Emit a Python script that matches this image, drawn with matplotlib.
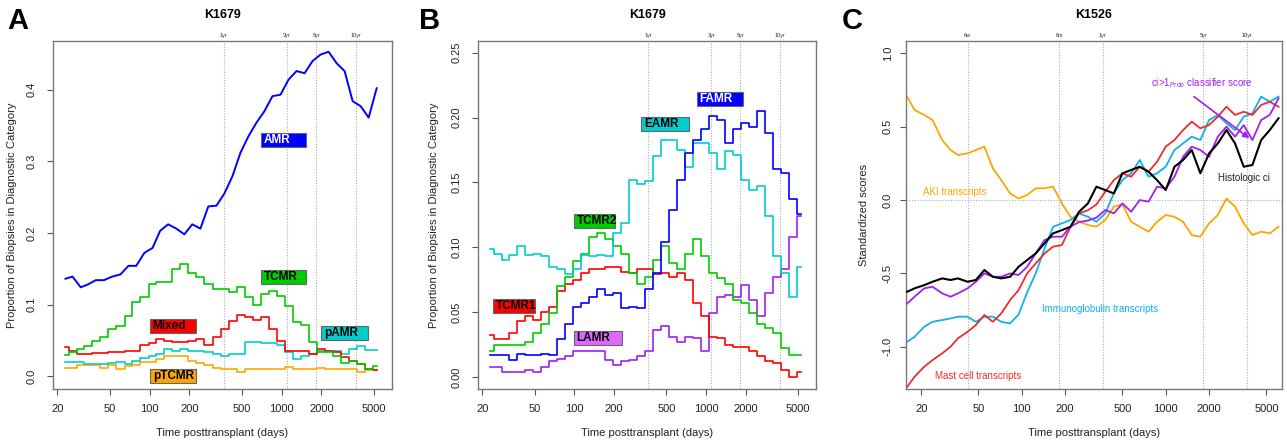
import matplotlib
matplotlib.use('Agg')
import matplotlib.pyplot as plt
from matplotlib.patches import Rectangle
from matplotlib.ticker import NullLocator

plt.rcParams['font.family'] = ['Liberation Sans', 'DejaVu Sans']

# ---------------- data ----------------
days_ab = [23, 26, 30, 34, 39, 45, 52, 60, 69, 79, 91, 105, 120, 138, 159, 183, 210, 242, 278, 320,
           368, 423, 487, 560, 644, 740, 851, 979, 1126, 1295, 1490, 1713, 1970, 2266, 2606, 2997,
           3447, 3964, 4559, 5243]

# Panel A (K1679)
amr = [0.136, 0.139, 0.124, 0.128, 0.134, 0.134, 0.139, 0.142, 0.154, 0.154, 0.172, 0.179, 0.203, 0.212,
       0.206, 0.198, 0.212, 0.206, 0.237, 0.238, 0.255, 0.279, 0.312, 0.335, 0.354, 0.370, 0.391, 0.393,
       0.414, 0.426, 0.423, 0.440, 0.449, 0.453, 0.437, 0.426, 0.384, 0.377, 0.361, 0.402]
tcmr = [0.029, 0.033, 0.038, 0.042, 0.049, 0.054, 0.066, 0.070, 0.084, 0.103, 0.110, 0.128, 0.131, 0.131,
        0.149, 0.156, 0.144, 0.139, 0.128, 0.121, 0.121, 0.117, 0.124, 0.110, 0.100, 0.115, 0.119, 0.112,
        0.098, 0.075, 0.072, 0.047, 0.033, 0.033, 0.028, 0.019, 0.021, 0.017, 0.010, 0.014]
mixed = [0.040, 0.035, 0.031, 0.031, 0.032, 0.032, 0.034, 0.034, 0.035, 0.035, 0.043, 0.046, 0.052, 0.049,
         0.047, 0.047, 0.049, 0.052, 0.043, 0.054, 0.066, 0.077, 0.086, 0.082, 0.079, 0.082, 0.066, 0.049,
         0.035, 0.035, 0.035, 0.031, 0.038, 0.035, 0.033, 0.026, 0.021, 0.017, 0.010, 0.009]
pamr = [0.020, 0.020, 0.020, 0.017, 0.017, 0.017, 0.019, 0.020, 0.017, 0.021, 0.025, 0.028, 0.031, 0.038,
        0.035, 0.038, 0.035, 0.035, 0.033, 0.031, 0.028, 0.031, 0.031, 0.047, 0.047, 0.046, 0.046, 0.043,
        0.033, 0.024, 0.028, 0.031, 0.035, 0.035, 0.035, 0.031, 0.038, 0.042, 0.037, 0.037]
ptcmr = [0.012, 0.012, 0.015, 0.015, 0.015, 0.012, 0.015, 0.010, 0.014, 0.015, 0.020, 0.020, 0.024, 0.028,
         0.028, 0.028, 0.021, 0.019, 0.015, 0.012, 0.010, 0.010, 0.006, 0.010, 0.010, 0.010, 0.010, 0.010,
         0.013, 0.010, 0.010, 0.010, 0.012, 0.010, 0.010, 0.010, 0.010, 0.006, 0.008, 0.008]

# Panel B (K1679)
eamr = [0.099, 0.095, 0.090, 0.094, 0.101, 0.094, 0.095, 0.093, 0.085, 0.083, 0.079, 0.083, 0.094, 0.093,
        0.094, 0.093, 0.111, 0.119, 0.152, 0.149, 0.151, 0.170, 0.183, 0.183, 0.175, 0.162, 0.180, 0.180,
        0.173, 0.160, 0.174, 0.171, 0.152, 0.144, 0.147, 0.124, 0.093, 0.080, 0.062, 0.085]
famr = [0.017, 0.017, 0.017, 0.013, 0.018, 0.017, 0.017, 0.018, 0.017, 0.029, 0.041, 0.054, 0.057, 0.062,
        0.068, 0.063, 0.065, 0.053, 0.054, 0.053, 0.068, 0.080, 0.104, 0.129, 0.152, 0.173, 0.183, 0.191,
        0.201, 0.198, 0.180, 0.191, 0.196, 0.193, 0.205, 0.188, 0.160, 0.157, 0.137, 0.126]
tcmr2 = [0.020, 0.025, 0.025, 0.025, 0.025, 0.027, 0.034, 0.041, 0.049, 0.070, 0.077, 0.089, 0.095, 0.108,
         0.111, 0.106, 0.101, 0.095, 0.080, 0.072, 0.077, 0.090, 0.101, 0.088, 0.083, 0.095, 0.106, 0.093,
         0.080, 0.076, 0.072, 0.059, 0.057, 0.049, 0.041, 0.038, 0.034, 0.022, 0.017, 0.017]
tcmr1 = [0.032, 0.029, 0.029, 0.034, 0.043, 0.047, 0.044, 0.050, 0.054, 0.066, 0.072, 0.075, 0.080, 0.083,
         0.083, 0.085, 0.085, 0.081, 0.080, 0.083, 0.083, 0.079, 0.080, 0.077, 0.080, 0.075, 0.057, 0.047,
         0.031, 0.030, 0.025, 0.023, 0.023, 0.020, 0.016, 0.012, 0.011, 0.005, 0.000, 0.004]
lamr = [0.008, 0.008, 0.004, 0.004, 0.004, 0.005, 0.004, 0.008, 0.012, 0.014, 0.016, 0.020, 0.020, 0.020,
        0.020, 0.013, 0.009, 0.012, 0.013, 0.016, 0.020, 0.036, 0.039, 0.031, 0.027, 0.031, 0.030, 0.020,
        0.049, 0.062, 0.063, 0.062, 0.071, 0.059, 0.047, 0.065, 0.077, 0.083, 0.108, 0.124]

# Panel C (K1526)
days_c = [16, 18, 21, 24, 28, 32, 36, 42, 48, 55, 63, 72, 83, 95, 109, 125, 144, 165, 190, 218, 250, 288,
          330, 380, 436, 500, 575, 660, 760, 870, 1000, 1150, 1320, 1515, 1740, 2000, 2300, 2640, 3030,
          3480, 4000, 4600, 5280, 6070]
aki = [0.705, 0.614, 0.580, 0.545, 0.409, 0.341, 0.307, 0.318, 0.341, 0.364, 0.216, 0.136, 0.045, 0.011,
       0.034, 0.080, 0.080, 0.091, -0.023, -0.114, -0.148, -0.170, -0.182, -0.136, -0.045, -0.030, -0.148,
       -0.182, -0.216, -0.148, -0.102, -0.114, -0.148, -0.239, -0.250, -0.159, -0.102, 0.011, -0.045,
       -0.159, -0.239, -0.216, -0.227, -0.182]
mast = [-1.273, -1.205, -1.136, -1.091, -1.045, -1.000, -0.943, -0.898, -0.852, -0.784, -0.830, -0.773,
        -0.682, -0.614, -0.500, -0.432, -0.364, -0.318, -0.307, -0.182, -0.091, -0.070, -0.030, 0.057,
        0.136, 0.182, 0.159, 0.227, 0.193, 0.261, 0.364, 0.409, 0.477, 0.534, 0.489, 0.511, 0.568, 0.636,
        0.580, 0.602, 0.580, 0.648, 0.670, 0.636]
ig = [-0.966, -0.932, -0.864, -0.830, -0.818, -0.807, -0.795, -0.795, -0.830, -0.795, -0.795, -0.830,
      -0.841, -0.780, -0.630, -0.500, -0.330, -0.182, -0.159, -0.136, -0.091, -0.114, -0.148, -0.091,
      0.045, 0.136, 0.182, 0.273, 0.159, 0.182, 0.227, 0.341, 0.386, 0.432, 0.409, 0.545, 0.580, 0.523,
      0.477, 0.568, 0.591, 0.705, 0.670, 0.705]
cls = [-0.705, -0.659, -0.602, -0.591, -0.636, -0.659, -0.636, -0.602, -0.557, -0.500, -0.523, -0.523,
       -0.500, -0.511, -0.455, -0.364, -0.273, -0.250, -0.250, -0.182, -0.150, -0.140, -0.120, -0.068,
       -0.091, -0.023, -0.080, 0.000, -0.011, 0.091, 0.080, 0.159, 0.295, 0.364, 0.341, 0.295, 0.432,
       0.500, 0.432, 0.511, 0.409, 0.545, 0.580, 0.693]
histo = [-0.625, -0.602, -0.580, -0.557, -0.534, -0.545, -0.534, -0.557, -0.545, -0.477, -0.523, -0.534,
         -0.523, -0.455, -0.409, -0.364, -0.295, -0.227, -0.205, -0.182, -0.080, -0.023, 0.091, 0.068,
         0.045, 0.182, 0.205, 0.227, 0.193, 0.136, 0.068, 0.227, 0.273, 0.341, 0.182, 0.318, 0.386, 0.477,
         0.386, 0.227, 0.239, 0.409, 0.477, 0.557]

xticks = [20, 50, 100, 200, 500, 1000, 2000, 5000]
xticklabels = ['20', '50', '100', '200', '500', '1000', '2000', '5000']
marks_ab = [365, 1095, 1826, 3652]
marks_ab_lab = ['1yr', '3yr', '5yr', '10yr']
marks_c = [42, 182, 365, 1826, 3652]
marks_c_lab = ['6w', '6m', '1yr', '5yr', '10yr']

# ---------------- figure ----------------
W, H = 1287, 445
fig = plt.figure(figsize=(W / 100, H / 100), dpi=100)


def px_axes(l, t, r, b):
    return fig.add_axes([l / W, 1 - b / H, (r - l) / W, (b - t) / H])


def style(ax, xlim, ylim, yticks, ylabels, ypad):
    ax.set_xscale('log')
    ax.set_xlim(xlim)
    ax.set_ylim(ylim)
    ax.set_xticks(xticks)
    ax.set_xticklabels(xticklabels)
    ax.xaxis.set_minor_locator(NullLocator())
    ax.set_yticks(yticks)
    ax.set_yticklabels(ylabels, rotation=90, va='center')
    ax.tick_params(axis='both', direction='out', length=4.5, width=0.8, color='#555',
                   labelsize=8, labelcolor='#222')
    ax.tick_params(axis='x', pad=6)
    ax.tick_params(axis='y', pad=ypad)
    for s in ax.spines.values():
        s.set_color('#777')
        s.set_linewidth(1.0)


def marks(ax, ds, labs):
    tr = ax.get_xaxis_transform()
    for d, lab in zip(ds, labs):
        ax.axvline(d, color='#aaaaaa', ls=(0, (1, 1.5)), lw=0.8, zorder=1)
        ax.text(d, 1.008, lab, transform=tr, ha='center', va='bottom', fontsize=4, color='#333')


def tag(ax, x, y, text, w_px, fc, tc):
    fx, fy = (ax.transScale + ax.transLimits).transform((x, y))
    bb = ax.get_position()
    aw, ah = bb.width * W, bb.height * H
    w, h = w_px / aw, 14 / ah
    ax.add_patch(Rectangle((fx, fy - h / 2), w, h, transform=ax.transAxes, fc=fc, ec='#666',
                           lw=0.8, zorder=5, clip_on=False))
    ax.text(fx + 3 / aw, fy, text, transform=ax.transAxes, ha='left', va='center',
            fontsize=8.5, fontweight='bold', color=tc, zorder=6)


def head(ax, letter, lx, title):
    bb = ax.get_position()
    fig.text(lx / W, 1 - 7 / H, letter, fontsize=21, fontweight='bold', ha='left', va='top')
    fig.text(bb.x0 + bb.width / 2, 1 - 15 / H, title, fontsize=9, fontweight='bold',
             ha='center', va='center')
    fig.text(bb.x0 + bb.width / 2, 1 - 433 / H, 'Time posttransplant (days)', fontsize=8,
             ha='center', va='center', color='#222')


lw = 1.2
st = 'steps-mid'

# ---- Panel A ----
axA = px_axes(53, 41, 392, 389)
style(axA, (18.5, 6850), (-0.018, 0.468), [0.0, 0.1, 0.2, 0.3, 0.4],
      ['0.0', '0.1', '0.2', '0.3', '0.4'], 7)
marks(axA, marks_ab, marks_ab_lab)
axA.plot(days_ab, ptcmr, color='#FFA500', lw=lw, zorder=2, drawstyle=st)
axA.plot(days_ab, pamr, color='#00CDCD', lw=lw, zorder=2, drawstyle=st)
axA.plot(days_ab, mixed, color='#FF0000', lw=lw, zorder=2, drawstyle=st)
axA.plot(days_ab, tcmr, color='#00CD00', lw=lw, zorder=2, drawstyle=st)
axA.plot(days_ab, amr, color='#0000FF', lw=1.4, zorder=3)
tag(axA, 697, 0.330, 'AMR', 45, '#0000FF', 'white')
tag(axA, 697, 0.139, 'TCMR', 45, '#00CD00', 'black')
tag(axA, 1985, 0.060, 'pAMR', 47, '#00CDCD', 'black')
tag(axA, 100, 0.070, 'Mixed', 46, '#FF0000', 'black')
tag(axA, 100, 0.000, 'pTCMR', 46, '#FFA500', 'black')
fig.text(12 / W, 1 - 215 / H, 'Proportion of Biopsies in Diagnostic Category', rotation=90,
         fontsize=8, ha='center', va='center', color='#222')
head(axA, 'A', 7, 'K1679')

# ---- Panel B ----
axB = px_axes(478, 41, 816, 389)
style(axB, (18.5, 6850), (-0.0093, 0.259), [0.0, 0.05, 0.10, 0.15, 0.20, 0.25],
      ['0.00', '0.05', '0.10', '0.15', '0.20', '0.25'], 7)
marks(axB, marks_ab, marks_ab_lab)
axB.plot(days_ab, lamr, color='#A020F0', lw=lw, zorder=2, drawstyle=st)
axB.plot(days_ab, tcmr1, color='#FF0000', lw=lw, zorder=2, drawstyle=st)
axB.plot(days_ab, tcmr2, color='#00CD00', lw=lw, zorder=2, drawstyle=st)
axB.plot(days_ab, eamr, color='#00CDCD', lw=lw, zorder=2, drawstyle=st)
axB.plot(days_ab, famr, color='#0000FF', lw=lw, zorder=3, drawstyle=st)
tag(axB, 322, 0.195, 'EAMR', 48, '#00CDCD', 'black')
tag(axB, 849, 0.214, 'FAMR', 46, '#0000FF', 'white')
tag(axB, 98.6, 0.120, 'TCMR2', 41, '#00CD00', 'black')
tag(axB, 23.9, 0.0545, 'TCMR1', 42, '#FF0000', 'black')
tag(axB, 98.6, 0.030, 'LAMR', 48, '#E066FF', 'black')
fig.text(434 / W, 1 - 215 / H, 'Proportion of Biopsies in Diagnostic Category', rotation=90,
         fontsize=8, ha='center', va='center', color='#222')
head(axB, 'B', 419, 'K1679')

# ---- Panel C ----
axC = px_axes(906, 41, 1282, 389)
style(axC, (15.7, 6420), (-1.288, 1.084), [-1.0, -0.5, 0.0, 0.5, 1.0],
      ['-1.0', '-0.5', '0.0', '0.5', '1.0'], 5)
marks(axC, marks_c, marks_c_lab)
axC.axhline(0, color='#aaaaaa', ls=(0, (1, 1.5)), lw=0.8, zorder=1)
axC.plot(days_c, aki, color='#FFA500', lw=1.3, zorder=2)
axC.plot(days_c, ig, color='#10B0EA', lw=1.3, zorder=2)
axC.plot(days_c, mast, color='#EE2C2C', lw=1.3, zorder=3)
axC.plot(days_c, cls, color='#A020F0', lw=1.3, zorder=3)
axC.plot(days_c, histo, color='black', lw=1.5, zorder=4)
axC.annotate('', xy=(3950, 0.41), xytext=(1515, 0.716),
             arrowprops=dict(arrowstyle='-|>', color='#A020F0', lw=1.2, mutation_scale=9))
axC.text(1786, 0.80, r'ci>1$_{\mathregular{Prob}}$ classifier score', color='#A020F0',
         fontsize=7, ha='center', va='center')
axC.text(3490, 0.15, 'Histologic ci', color='#222', fontsize=7, ha='center', va='center')
axC.text(34.4, 0.055, 'AKI transcripts', color='#FFA500', fontsize=7, ha='center', va='center')
axC.text(350, -0.745, 'Immunoglobulin transcripts', color='#10B0EA', fontsize=7,
         ha='center', va='center')
axC.text(49.7, -1.198, 'Mast cell transcripts', color='#EE2C2C', fontsize=7,
         ha='center', va='center')
fig.text(864 / W, 1 - 215 / H, 'Standardized scores', rotation=90,
         fontsize=8, ha='center', va='center', color='#222')
head(axC, 'C', 842, 'K1526')

fig.savefig('out.png', dpi=100)
